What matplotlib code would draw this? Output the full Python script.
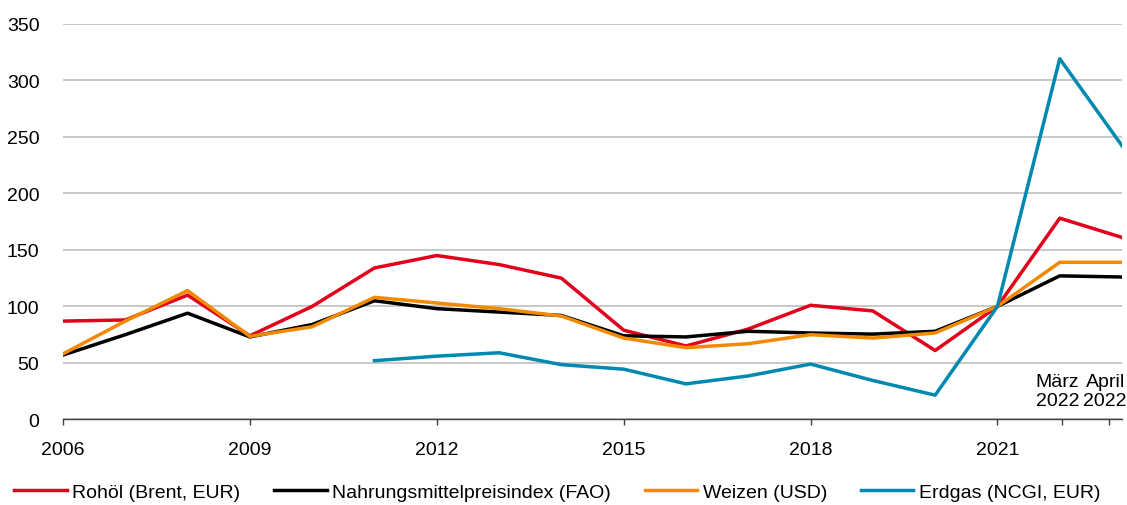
import numpy as np
import matplotlib
matplotlib.use("Agg")
import matplotlib.pyplot as plt

plt.rcParams["font.family"] = ["Liberation Sans", "DejaVu Sans"]

# data, index 100 = 2021
labels = ["2006", "2007", "2008", "2009", "2010", "2011", "2012", "2013", "2014",
          "2015", "2016", "2017", "2018", "2019", "2020", "2021", "März\n2022", "April\n2022"]
rohoel = [87, 88, 110, 74, 100, 134, 145, 137, 125, 79, 65, 80, 101, 96, 61, 100, 178, 161]
nahrung = [57, 75, 94, 73, 84, 105, 98, 95, 92, 74, 73, 78, 76.5, 75.5, 78, 100, 127, 126]
weizen = [58, 87, 114, 73.5, 82, 108, 103, 98, 91.5, 72, 63.5, 67, 75, 72, 76.5, 100, 139, 139]
erdgas = [np.nan, np.nan, np.nan, np.nan, np.nan, 52, 56, 59, 48.5, 44.5, 31.5, 38.5,
          49, 34.5, 21.5, 100, 319, 242]

series = [
    ("Rohöl (Brent, EUR)", rohoel, "#E2001A"),
    ("Nahrungsmittelpreisindex (FAO)", nahrung, "#000000"),
    ("Weizen (USD)", weizen, "#F18A00"),
    ("Erdgas (NCGI, EUR)", erdgas, "#0089B0"),
]

x = np.arange(len(labels))
fs = 14

fig = plt.figure(figsize=(11.27, 5.06), dpi=100)
ax = fig.add_axes([0.0559, 0.169, 0.9397, 0.7822])

for name, vals, col in series:
    ax.plot(x, vals, color=col, lw=2.5, label=name)

ax.set_xlim(0, 17)
ax.set_ylim(0, 350)
ax.set_yticks(np.arange(0, 351, 50))
ax.yaxis.grid(True, color="#BFBFBF", lw=1.2)
ax.set_axisbelow(True)
ax.tick_params(axis="y", length=0, pad=17, labelsize=fs)

# yearly labels every 3 years, monthly ticks at the end
ax.set_xticks(x[:16:3])
ax.set_xticklabels([labels[i] for i in x[:16:3]])
ax.set_xticks([16.04, 16.79], minor=True)
ax.tick_params(axis="x", which="both", length=4.5, width=1, color="#404040",
               direction="out", pad=11, labelsize=fs)
for i, xm in zip([16, 17], [15.96, 16.73]):
    ax.text(xm, 9, labels[i], ha="center", va="bottom", fontsize=fs, linespacing=1.15)

for s in ["left", "right", "top"]:
    ax.spines[s].set_visible(False)
ax.spines["bottom"].set_color("#404040")
ax.spines["bottom"].set_linewidth(1)

fig.legend(loc="center", bbox_to_anchor=(0.4945, 0.026), ncol=4, frameon=False,
           fontsize=fs, handlelength=2.7, handletextpad=0.27, columnspacing=1.75,
           borderaxespad=0)

fig.savefig("out.png", dpi=100)
